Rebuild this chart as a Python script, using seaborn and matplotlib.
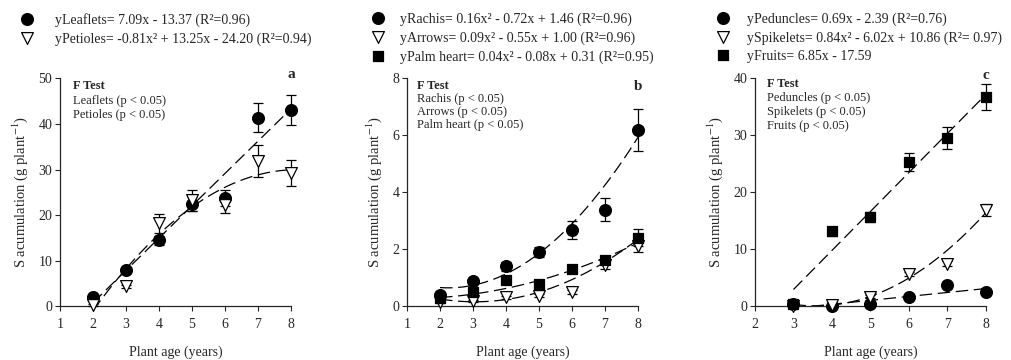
import numpy as np
import pandas as pd
import matplotlib.pyplot as plt
import seaborn as sns

sns.set_style("ticks")
plt.rcParams["font.family"] = ["Liberation Serif", "DejaVu Serif"]
plt.rcParams["mathtext.fontset"] = "stix"

# panel a - leaves
age_a = [2, 3, 4, 5, 6, 7, 8]
leaflets = [2.1, 7.9, 14.5, 22.4, 23.8, 41.4, 43.1]
leaflets_err = [0.3, 0.4, 1.0, 1.5, 1.8, 3.2, 3.3]
petioles = [0.3, 4.4, 18.2, 23.3, 22.2, 31.8, 29.3]
petioles_err = [0.2, 0.3, 2.1, 2.3, 1.8, 3.5, 2.8]
coef_leaflets = [7.09, -13.37]
coef_petioles = [-0.81, 13.25, -24.20]

# panel b - rachis, arrows, palm heart
age_b = [2, 3, 4, 5, 6, 7, 8]
rachis = [0.40, 0.89, 1.40, 1.90, 2.68, 3.40, 6.20]
rachis_err = [0.05, 0.08, 0.15, 0.18, 0.32, 0.40, 0.73]
arrows = [0.16, 0.19, 0.32, 0.37, 0.50, 1.45, 2.12]
arrows_err = [0.03, 0.03, 0.05, 0.05, 0.06, 0.15, 0.22]
palm = [0.30, 0.50, 0.92, 0.78, 1.30, 1.62, 2.41]
palm_err = [0.03, 0.05, 0.08, 0.08, 0.08, 0.15, 0.29]
coef_rachis = [0.16, -0.72, 1.46]
coef_arrows = [0.09, -0.55, 1.00]
coef_palm = [0.04, -0.08, 0.31]

# panel c - peduncles, spikelets, fruits
age_c = [3, 4, 5, 6, 7, 8]
peduncles = [0.35, 0.15, 0.5, 1.7, 3.7, 2.6]
peduncles_err = [0.1, 0.1, 0.2, 0.3, 0.4, 0.3]
spikelets = [0.0, 0.25, 1.7, 5.7, 7.5, 16.9]
spikelets_err = [0.05, 0.1, 0.3, 0.4, 0.5, 1.1]
fruits = [0.4, 13.2, 15.7, 25.4, 29.6, 36.8]
fruits_err = [0.2, 0.8, 0.9, 1.6, 1.9, 2.3]
coef_peduncles = [0.69, -2.39]
coef_spikelets = [0.84, -6.02, 10.86]
coef_fruits = [6.85, -17.59]

panels = [
    {
        "pos": [0.0593, 0.149, 0.2283, 0.633], "x": age_a, "xlim": (1, 8), "fit_from": 2,
        "ylim": (0, 50), "yticks": [0, 10, 20, 30, 40, 50], "letter": "a", "letter_y": 50.9,
        "ftest": ["Leaflets (p < 0.05)", "Petioles (p < 0.05)"], "ftest_x": 0.055, "ftest_y": 0.966,
        "ftest_step": 0.064, "leg_x": 13 / 1012, "leg_pad": 1.0,
        "series": [
            ("o", "black", 8.5, leaflets, leaflets_err, coef_leaflets,
             "yLeaflets= 7.09x - 13.37 (R²=0.96)"),
            ("v", "white", 8.5, petioles, petioles_err, coef_petioles,
             "yPetioles= -0.81x² + 13.25x - 24.20 (R²=0.94)"),
        ],
    },
    {
        "pos": [0.4022, 0.149, 0.2283, 0.633], "x": age_b, "xlim": (1, 8), "fit_from": 2,
        "ylim": (0, 8), "yticks": [0, 2, 4, 6, 8], "letter": "b", "letter_y": 7.73,
        "ftest": ["Rachis (p < 0.05)", "Arrows (p < 0.05)", "Palm heart (p < 0.05)"],
        "ftest_x": 0.042, "ftest_y": 0.966, "ftest_step": 0.056,
        "leg_x": 364 / 1012, "leg_pad": 0.58,
        "series": [
            ("o", "black", 8.5, rachis, rachis_err, coef_rachis,
             "yRachis= 0.16x² - 0.72x + 1.46 (R²=0.96)"),
            ("v", "white", 8.5, arrows, arrows_err, coef_arrows,
             "yArrows= 0.09x² - 0.55x + 1.00 (R²=0.96)"),
            ("s", "black", 7.5, palm, palm_err, coef_palm,
             "yPalm heart= 0.04x² - 0.08x + 0.31 (R²=0.95)"),
        ],
    },
    {
        "pos": [0.746, 0.149, 0.2283, 0.633], "x": age_c, "xlim": (2, 8), "fit_from": 3,
        "ylim": (0, 40), "yticks": [0, 10, 20, 30, 40], "letter": "c", "letter_y": 40.6,
        "ftest": ["Peduncles (p < 0.05)", "Spikelets (p < 0.05)", "Fruits (p < 0.05)"],
        "ftest_x": 0.05, "ftest_y": 0.975, "ftest_step": 0.061,
        "leg_x": 709 / 1012, "leg_pad": 0.73,
        "series": [
            ("o", "black", 8.5, peduncles, peduncles_err, coef_peduncles,
             "yPeduncles= 0.69x - 2.39 (R²=0.76)"),
            ("v", "white", 8.5, spikelets, spikelets_err, coef_spikelets,
             "ySpikelets= 0.84x² - 6.02x + 10.86 (R²= 0.97)"),
            ("s", "black", 7.5, fruits, fruits_err, coef_fruits,
             "yFruits= 6.85x - 17.59"),
        ],
    },
]

fig = plt.figure(figsize=(10.12, 3.6), dpi=100)

for p in panels:
    ax = fig.add_axes(p["pos"])
    xs = np.linspace(p["fit_from"], 8, 200)
    for marker, face, ms, vals, err, coef, label in p["series"]:
        # fitted curve from the printed equation
        sns.lineplot(x=xs, y=np.polyval(coef, xs), ax=ax, color="black",
                     lw=0.9, linestyle=(0, (10, 4.5)), zorder=2)
        ax.errorbar(p["x"], vals, yerr=err, fmt="none", ecolor="black",
                    elinewidth=0.9, capsize=3.5, capthick=0.9, zorder=3, clip_on=False)
        sns.scatterplot(x=p["x"], y=vals, ax=ax, marker=marker, s=ms ** 2,
                        color=face, edgecolor="black", linewidth=0.9,
                        zorder=4, clip_on=False, label=label, legend=False)

    ax.set_xlim(p["xlim"])
    ax.set_ylim(p["ylim"])
    ax.set_xticks(range(p["xlim"][0], 9))
    ax.set_yticks(p["yticks"])
    sns.despine(ax=ax)
    ax.tick_params(labelsize=10, length=3.5, width=0.8, pad=2)
    ax.tick_params(axis="x", pad=5)
    for s in ax.spines.values():
        s.set_linewidth(0.9)
    ax.set_xlabel("Plant age (years)", fontsize=10, labelpad=10.5)
    ax.set_ylabel("S acumulation (g plant$^{-1}$)", fontsize=10.5, labelpad=6)

    ax.text(8, p["letter_y"], p["letter"], ha="center", va="center",
            fontsize=11, fontweight="bold")
    ax.text(p["ftest_x"], p["ftest_y"], "F Test", transform=ax.transAxes,
            ha="left", va="center", fontsize=9, fontweight="bold")
    for i, line in enumerate(p["ftest"]):
        ax.text(p["ftest_x"], p["ftest_y"] - (i + 1) * p["ftest_step"], line,
                transform=ax.transAxes, ha="left", va="center", fontsize=9)

    h, l = ax.get_legend_handles_labels()
    ax.legend(h, l, loc="upper left", bbox_to_anchor=(p["leg_x"], 1 - 13 / 360),
              bbox_transform=fig.transFigure, frameon=False, fontsize=10,
              handlelength=2, handletextpad=p["leg_pad"], labelspacing=0.37,
              borderpad=0, borderaxespad=0, scatterpoints=1, scatteryoffsets=[0.5])

fig.savefig("out.png", dpi=100)
